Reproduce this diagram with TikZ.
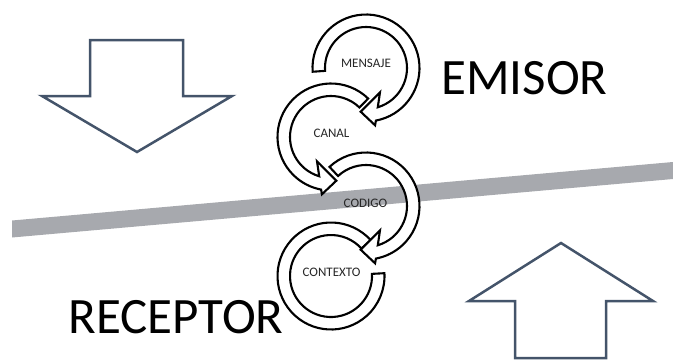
\documentclass[tikz,border=0pt]{standalone}
\usepackage{fontspec}
\setmainfont{Carlito}
\definecolor{slate}{HTML}{44546A}
\definecolor{bargray}{HTML}{A7A9AE}
\begin{document}
\begin{tikzpicture}[x=1pt,y=-1pt,
  blockarrow/.style={draw=slate,line width=2.5pt,fill=white,line join=miter},
  ring/.style={draw=black,line width=2.1pt,fill=white,line join=miter},
  lbl/.style={inner sep=0pt,anchor=base,text=black!85,font=\fontsize{13}{15}\selectfont},
  big/.style={inner sep=0pt,anchor=base,text=black,font=\fontsize{51}{56}\selectfont}]
\useasboundingbox (0,0) rectangle (673,360);

% slanted gray band
\fill[bargray] (12,220.5) -- (673,162) -- (673,179) -- (12,237.5) -- cycle;

% hollow block arrows
\draw[blockarrow] (90,40) -- (183,40) -- (183,96) -- (232,96) -- (137,152)
  -- (42,96) -- (90,96) -- cycle;
\draw[blockarrow] (561,243) -- (653,301) -- (606,301) -- (606,358)
  -- (515,358) -- (515,301) -- (469,301) -- cycle;

% ring centres
\coordinate (c1) at (366,68);
\coordinate (c2) at (331,137);
\coordinate (c3) at (366,206);
\coordinate (c4) at (331,276);

% ring 4: open ring, no head
\begin{scope}[shift={(c4)},y={(0pt,1pt)}]
  \draw[ring] (42:53.5) arc[start angle=42,end angle=363,radius=53.5pt]
    -- (363:41) arc[start angle=363,end angle=42,radius=41pt] -- cycle;
\end{scope}
% ring 3: clockwise with head
\begin{scope}[shift={(c3)},y={(0pt,1pt)}]
  \draw[ring] (133:53.5) arc[start angle=133,end angle=-79.3,radius=53.5pt]
    -- (-81:58) -- (-97:44) -- (-60:28) -- (-73.3:41)
    arc[start angle=-73.3,end angle=133,radius=41pt] -- cycle;
\end{scope}
% ring 2: counter-clockwise with head
\begin{scope}[shift={(c2)},y={(0pt,1pt)}]
  \draw[ring] (46:53.5) arc[start angle=46,end angle=259.3,radius=53.5pt]
    -- (261:58) -- (277:44) -- (240:28) -- (253.3:41)
    arc[start angle=253.3,end angle=46,radius=41pt] -- cycle;
\end{scope}
% ring 1: clockwise with head
\begin{scope}[shift={(c1)},y={(0pt,1pt)}]
  \draw[ring] (184:53.5) arc[start angle=184,end angle=-79.3,radius=53.5pt]
    -- (-81:58) -- (-97:44) -- (-60:28) -- (-73.3:41)
    arc[start angle=-73.3,end angle=184,radius=41pt] -- cycle;
\end{scope}

% labels
\node[lbl] (mensaje) at (366,67.7) {MENSAJE};
\node[lbl] (canal) at (331.5,137.3) {CANAL};
\node[lbl] (codigo) at (365.5,207) {CODIGO};
\node[lbl] (contexto) at (331.5,276) {CONTEXTO};

\node[big] (emisor) at (524.5,94) {EMISOR};
\node[big] (receptor) at (176,333) {RECEPTOR};
\end{tikzpicture}
\end{document}
